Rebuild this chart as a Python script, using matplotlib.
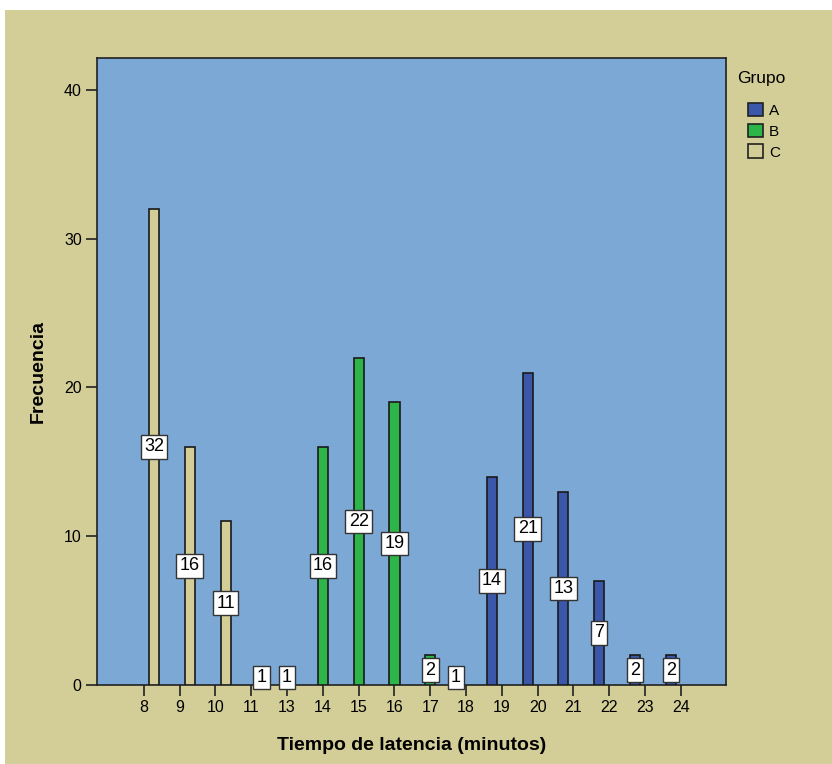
import numpy as np
import matplotlib.pyplot as plt
from matplotlib.patches import Rectangle, Patch

plt.rcParams['font.family'] = ['Liberation Sans', 'DejaVu Sans']

# Datos
categorias = [8, 9, 10, 11, 13, 14, 15, 16, 17, 18, 19, 20, 21, 22, 23, 24]
grupo_a = [0, 0, 0, 0, 0, 0, 0, 0, 0, 1, 14, 21, 13, 7, 2, 2]
grupo_b = [0, 0, 0, 0, 1, 16, 22, 19, 2, 0, 0, 0, 0, 0, 0, 0]
grupo_c = [32, 16, 11, 1, 0, 0, 0, 0, 0, 0, 0, 0, 0, 0, 0, 0]
grupos = ['A', 'B', 'C']

fondo = '#d3cd98'
azul_fondo = '#7ba8d5'
colores = ['#3b57a9', '#2db54a', '#d3cd98']

fig = plt.figure(figsize=(8.32, 7.64), dpi=100, facecolor='white')
fig.patches.append(Rectangle((5 / 832, 0), 1, 1 - 10 / 764, transform=fig.transFigure,
                             facecolor=fondo, edgecolor='none', zorder=-10))

ax = fig.add_axes([97 / 832, 1 - 685 / 764, 629 / 832, 627 / 764])
ax.set_facecolor(azul_fondo)

x = np.arange(len(categorias))
ancho = 0.28
for i, (serie, color) in enumerate(zip([grupo_a, grupo_b, grupo_c], colores)):
    pos = x + (i - 1) * ancho
    for xi, v in zip(pos, serie):
        if v == 0:
            continue
        ax.bar(xi, v, width=ancho, color=color, edgecolor='#1a1a1a', linewidth=1.2, zorder=3)
        ax.text(xi, v / 2, str(v), ha='center', va='center', fontsize=13, zorder=4,
                bbox=dict(boxstyle='square,pad=0.18', facecolor='white', edgecolor='#333333', linewidth=1.0))

ax.set_xlim(-1.31, 16.26)
ax.set_ylim(0, 42.15)
ax.set_xticks(x)
ax.set_xticklabels([str(c) for c in categorias], fontsize=11.5)
ax.set_yticks([0, 10, 20, 30, 40])
ax.set_yticklabels(['0', '10', '20', '30', '40'], fontsize=11.5)
ax.tick_params(axis='both', direction='out', length=8, width=1.2, color='#222222', pad=3)
for s in ax.spines.values():
    s.set_color('#222222')
    s.set_linewidth(1.2)

ax.set_xlabel('Tiempo de latencia (minutos)', fontsize=14, fontweight='bold', labelpad=16)
ax.set_ylabel('Frecuencia', fontsize=14, fontweight='bold', labelpad=12)

fig.text(737 / 832, 1 - 78 / 764, 'Grupo', fontsize=12.5, ha='left', va='center')
handles = [Patch(facecolor=c, edgecolor='#222222', linewidth=1.2) for c in colores]
leg = fig.legend(handles, grupos, loc='upper left',
                 bbox_to_anchor=(734 / 832, 1 - 89 / 764), frameon=False,
                 fontsize=11, handlelength=1.0, handleheight=1.0,
                 handletextpad=0.4, labelspacing=0.38)

fig.savefig('out.png', dpi=100, facecolor=fig.get_facecolor())
